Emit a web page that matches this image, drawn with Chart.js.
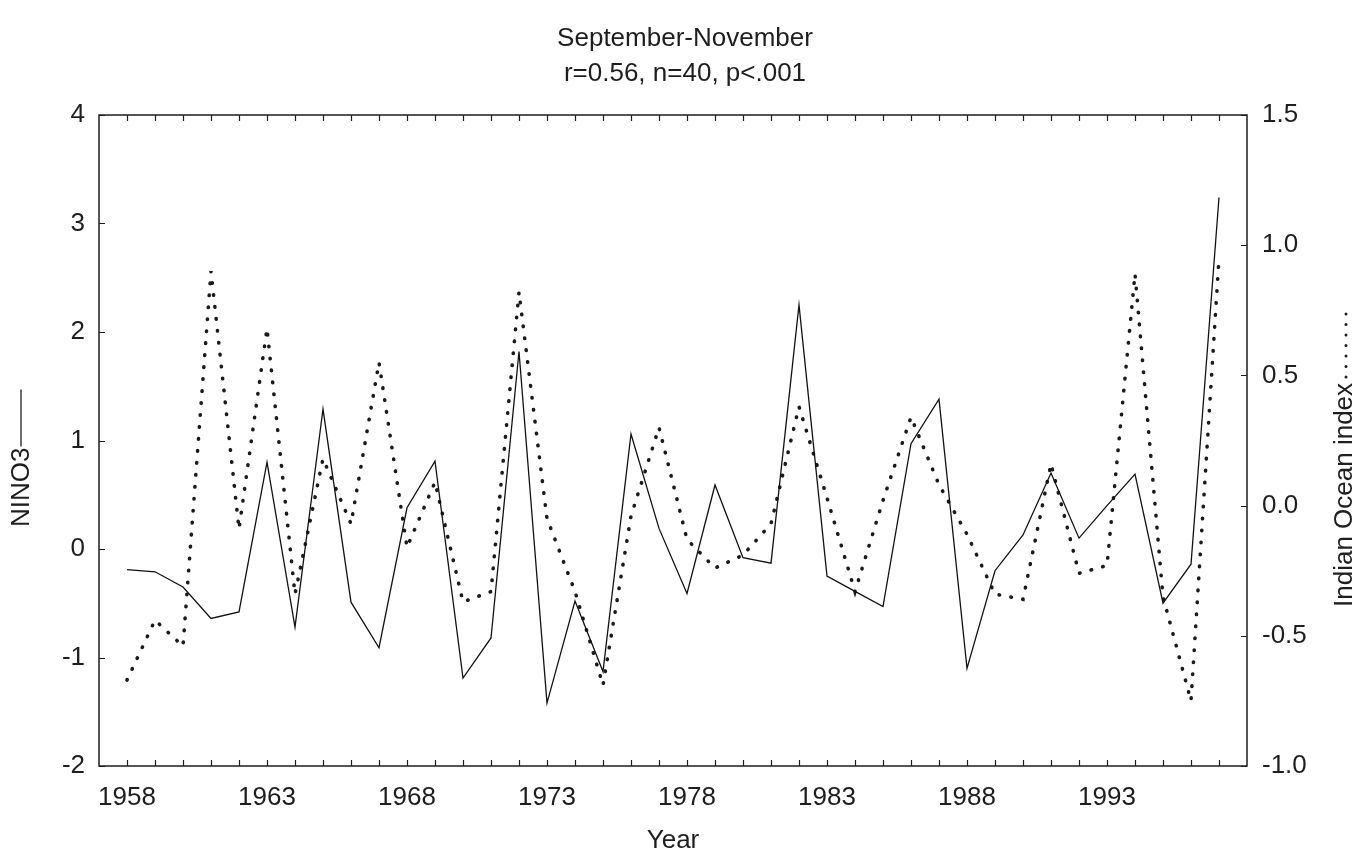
<!DOCTYPE html>
<html>
<head>
<meta charset="utf-8">
<script src="https://cdn.jsdelivr.net/npm/chart.js@4/dist/chart.umd.min.js"></script>
<style>
  body { margin: 0; background: #fff; }
  #wrap { width: 1370px; height: 854px; }
</style>
</head>
<body>
<div id="wrap"><canvas id="ninoChart" width="1370" height="854"></canvas></div>
<script>
// Years 1958-1997 (n=40)
const years = [
  1958, 1959, 1960, 1961, 1962, 1963, 1964, 1965, 1966, 1967,
  1968, 1969, 1970, 1971, 1972, 1973, 1974, 1975, 1976, 1977,
  1978, 1979, 1980, 1981, 1982, 1983, 1984, 1985, 1986, 1987,
  1988, 1989, 1990, 1991, 1992, 1993, 1994, 1995, 1996, 1997
];

// NINO3 (left axis, solid line)
const nino3 = [
  -0.19, -0.21, -0.35, -0.64, -0.58, 0.80, -0.72, 1.29, -0.49, -0.91,
  0.38, 0.81, -1.19, -0.82, 1.82, -1.42, -0.48, -1.13, 1.06, 0.19,
  -0.41, 0.59, -0.08, -0.13, 2.25, -0.25, -0.39, -0.53, 0.97, 1.38,
  -1.10, -0.20, 0.13, 0.70, 0.10, 0.40, 0.69, -0.50, -0.14, 3.24
];

// Indian Ocean index (right axis, dotted line)
const indianOcean = [
  -0.67, -0.44, -0.54, 0.90, -0.09, 0.68, -0.34, 0.18, -0.07, 0.55,
  -0.16, 0.09, -0.37, -0.33, 0.82, -0.05, -0.33, -0.69, -0.04, 0.30,
  -0.13, -0.24, -0.19, -0.07, 0.38, 0.03, -0.33, 0.02, 0.34, 0.08,
  -0.11, -0.34, -0.36, 0.16, -0.26, -0.23, 0.89, -0.35, -0.75, 0.95
];

// tick labels shown on the x axis
const yearLabels = [1958, 1963, 1968, 1973, 1978, 1983, 1988, 1993];

const titleLines = ['September-November', 'r=0.56, n=40, p<.001'];
const xTitle = 'Year';
const leftTitle = 'NINO3';
const rightTitle = 'Indian Ocean index';

const FONT = '"Liberation Sans", Arial, sans-serif';
const INK = '#1e1e1e';

// frame, inward tick marks and the axis titles
const frameTicks = {
  id: 'frameTicks',
  afterDraw(chart) {
    const { ctx, chartArea: a, scales } = chart;
    ctx.save();
    ctx.strokeStyle = INK;
    ctx.lineWidth = 1.5;
    ctx.strokeRect(a.left, a.top, a.right - a.left, a.bottom - a.top);

    ctx.lineWidth = 1.2;
    ctx.beginPath();
    years.forEach(yr => {
      const px = Math.round(scales.x.getPixelForValue(yr)) + 0.5;
      ctx.moveTo(px, a.bottom); ctx.lineTo(px, a.bottom - 6);
      ctx.moveTo(px, a.top); ctx.lineTo(px, a.top + 6);
    });
    scales.y.ticks.forEach(t => {
      const py = Math.round(scales.y.getPixelForValue(t.value)) + 0.5;
      ctx.moveTo(a.left, py); ctx.lineTo(a.left + 6, py);
    });
    scales.y2.ticks.forEach(t => {
      const py = Math.round(scales.y2.getPixelForValue(t.value)) + 0.5;
      ctx.moveTo(a.right, py); ctx.lineTo(a.right - 6, py);
    });
    ctx.stroke();

    ctx.fillStyle = INK;
    ctx.font = '26px ' + FONT;
    ctx.textBaseline = 'middle';

    // x title
    ctx.textAlign = 'center';
    ctx.fillText(xTitle, (a.left + a.right) / 2, 841);

    // left title with a solid line sample
    ctx.save();
    ctx.translate(22, 527);
    ctx.rotate(-Math.PI / 2);
    ctx.textAlign = 'left';
    ctx.fillText(leftTitle, 0, 0);
    const lw = ctx.measureText(leftTitle).width;
    ctx.lineWidth = 1.3;
    ctx.beginPath();
    ctx.moveTo(lw + 1, -1); ctx.lineTo(lw + 58, -1);
    ctx.stroke();
    ctx.restore();

    // right title with a dotted line sample
    ctx.save();
    ctx.translate(1345, 607);
    ctx.rotate(-Math.PI / 2);
    ctx.textAlign = 'left';
    ctx.fillText(rightTitle, 0, 0);
    const rw = ctx.measureText(rightTitle).width;
    for (let i = 0; i < 7; i++) {
      ctx.beginPath();
      ctx.arc(rw + 6 + i * 10.5, 1, 1.5, 0, Math.PI * 2);
      ctx.fill();
    }
    ctx.restore();

    ctx.restore();
  }
};

const ctx = document.getElementById('ninoChart').getContext('2d');
new Chart(ctx, {
  type: 'line',
  data: {
    datasets: [
      {
        label: 'NINO3',
        data: years.map((yr, i) => ({ x: yr, y: nino3[i] })),
        yAxisID: 'y',
        borderColor: '#111',
        borderWidth: 1.3,
        pointRadius: 0,
        tension: 0,
        fill: false
      },
      {
        label: 'Indian Ocean index',
        data: years.map((yr, i) => ({ x: yr, y: indianOcean[i] })),
        yAxisID: 'y2',
        borderColor: '#1a1a1a',
        borderWidth: 3.6,
        borderDash: [0.5, 11.5],
        borderCapStyle: 'round',
        pointRadius: 0,
        tension: 0,
        fill: false
      }
    ]
  },
  options: {
    responsive: false,
    animation: false,
    layout: { padding: 0 },
    plugins: {
      legend: { display: false },
      tooltip: { enabled: false },
      title: {
        display: true,
        text: titleLines,
        color: INK,
        font: { family: FONT, size: 26, weight: 'normal', lineHeight: 1.35 },
        padding: { top: 21, bottom: 23.8 }
      }
    },
    scales: {
      x: {
        type: 'linear',
        min: 1957,
        max: 1998,
        grid: { display: false },
        border: { display: false },
        ticks: {
          stepSize: 1,
          autoSkip: false,
          maxRotation: 0,
          color: INK,
          padding: 8,
          font: { family: FONT, size: 26 },
          callback: v => yearLabels.includes(v) ? String(v) : ''
        },
        afterFit: s => { s.height = 88; }
      },
      y: {
        position: 'left',
        min: -2,
        max: 4,
        grid: { display: false },
        border: { display: false },
        ticks: {
          stepSize: 1,
          color: INK,
          padding: 6,
          font: { family: FONT, size: 26 }
        },
        afterFit: s => { s.width = 99; }
      },
      y2: {
        position: 'right',
        min: -1,
        max: 1.5,
        grid: { display: false },
        border: { display: false },
        ticks: {
          stepSize: 0.5,
          color: INK,
          padding: 7,
          font: { family: FONT, size: 26 },
          callback: v => v.toFixed(1)
        },
        afterFit: s => { s.width = 123; }
      }
    }
  },
  plugins: [frameTicks]
});
</script>
</body>
</html>
